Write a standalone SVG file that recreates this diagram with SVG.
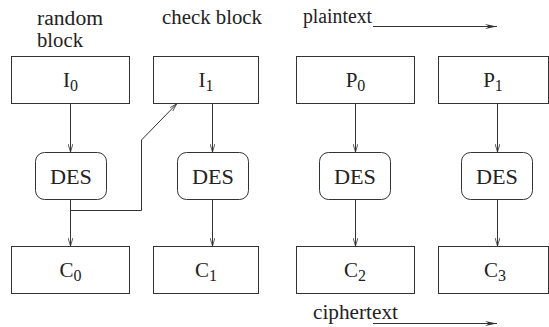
<svg xmlns="http://www.w3.org/2000/svg" width="549" height="327" viewBox="0 0 549 327">
<style>
.box{fill:#fff;stroke:#333;stroke-width:1}
.lbl{font-size:21px;fill:#222;text-anchor:middle}
.sub{font-size:16px}
.cap{font-size:20px;fill:#222}
.con{fill:none;stroke:#333;stroke-width:1}
</style>
<defs>
<marker id="ah" viewBox="0 0 10 6" refX="10" refY="3" markerWidth="8" markerHeight="5" markerUnits="userSpaceOnUse" orient="auto">
<path d="M0,0 L10,3 L0,6" fill="none" stroke="#333" stroke-width="1"/>
</marker>
<marker id="ah2" viewBox="0 0 12 5" refX="12" refY="2.5" markerWidth="12" markerHeight="5" markerUnits="userSpaceOnUse" orient="auto">
<path d="M0,0 L12,2.5 L0,5 L4,2.5 Z" fill="#333"/>
</marker>
</defs>
<g font-family="Liberation Serif, DejaVu Serif, serif">
<g id="captions">
<text class="cap" x="37" y="25" textLength="66" lengthAdjust="spacingAndGlyphs">random</text>
<text class="cap" x="37" y="47" textLength="46" lengthAdjust="spacingAndGlyphs">block</text>
<text class="cap" x="162" y="24" textLength="100" lengthAdjust="spacingAndGlyphs">check block</text>
<text class="cap" x="303" y="23" textLength="69" lengthAdjust="spacingAndGlyphs">plaintext</text>
<text class="cap" x="313" y="319" textLength="85" lengthAdjust="spacingAndGlyphs">ciphertext</text>
</g>
<g id="I0"><rect class="box" x="11.5" y="56.5" width="118" height="47"/><text class="lbl" x="70.5" y="87">I<tspan class="sub" dy="4">0</tspan></text></g>
<g id="I1"><rect class="box" x="153.5" y="56.5" width="105" height="47"/><text class="lbl" x="206" y="87">I<tspan class="sub" dy="4">1</tspan></text></g>
<g id="P0"><rect class="box" x="296.5" y="56.5" width="118" height="47"/><text class="lbl" x="355.5" y="87">P<tspan class="sub" dy="4">0</tspan></text></g>
<g id="P1"><rect class="box" x="438.5" y="56.5" width="110" height="47"/><text class="lbl" x="493" y="87">P<tspan class="sub" dy="4">1</tspan></text></g>
<g id="DES0"><rect class="box" x="35.5" y="152.5" width="71" height="47" rx="9"/><text class="lbl" x="71" y="183.5" textLength="42" lengthAdjust="spacingAndGlyphs">DES</text></g>
<g id="DES1"><rect class="box" x="177.5" y="152.5" width="71" height="47" rx="9"/><text class="lbl" x="213" y="183.5" textLength="42" lengthAdjust="spacingAndGlyphs">DES</text></g>
<g id="DES2"><rect class="box" x="319.5" y="152.5" width="71" height="47" rx="9"/><text class="lbl" x="355" y="183.5" textLength="42" lengthAdjust="spacingAndGlyphs">DES</text></g>
<g id="DES3"><rect class="box" x="461.5" y="152.5" width="71" height="47" rx="9"/><text class="lbl" x="497" y="183.5" textLength="42" lengthAdjust="spacingAndGlyphs">DES</text></g>
<g id="C0"><rect class="box" x="11.5" y="246.5" width="118" height="47"/><text class="lbl" x="70.5" y="276.5">C<tspan class="sub" dy="4">0</tspan></text></g>
<g id="C1"><rect class="box" x="153.5" y="246.5" width="105" height="47"/><text class="lbl" x="206" y="276.5">C<tspan class="sub" dy="4">1</tspan></text></g>
<g id="C2"><rect class="box" x="296.5" y="246.5" width="118" height="47"/><text class="lbl" x="355" y="276.5">C<tspan class="sub" dy="4">2</tspan></text></g>
<g id="C3"><rect class="box" x="438.5" y="246.5" width="110" height="47"/><text class="lbl" x="495" y="276.5">C<tspan class="sub" dy="4">3</tspan></text></g>
</g>
<g id="connectors">
<line class="con" x1="70.5" y1="104" x2="70.5" y2="152" marker-end="url(#ah)"/>
<line class="con" x1="212.5" y1="104" x2="212.5" y2="152" marker-end="url(#ah)"/>
<line class="con" x1="355.5" y1="104" x2="355.5" y2="152" marker-end="url(#ah)"/>
<line class="con" x1="497.5" y1="104" x2="497.5" y2="152" marker-end="url(#ah)"/>
<line class="con" x1="70.5" y1="200" x2="70.5" y2="246" marker-end="url(#ah)"/>
<line class="con" x1="212.5" y1="200" x2="212.5" y2="246" marker-end="url(#ah)"/>
<line class="con" x1="355.5" y1="200" x2="355.5" y2="246" marker-end="url(#ah)"/>
<line class="con" x1="497.5" y1="200" x2="497.5" y2="246" marker-end="url(#ah)"/>
<polyline class="con" points="70.5,210.5 141.5,210.5 141.5,140 176.5,104" marker-end="url(#ah)"/>
<line class="con" x1="373" y1="26.5" x2="497" y2="26.5" marker-end="url(#ah2)"/>
<line class="con" x1="373" y1="323.5" x2="497" y2="323.5" marker-end="url(#ah2)"/>
</g>
</svg>
